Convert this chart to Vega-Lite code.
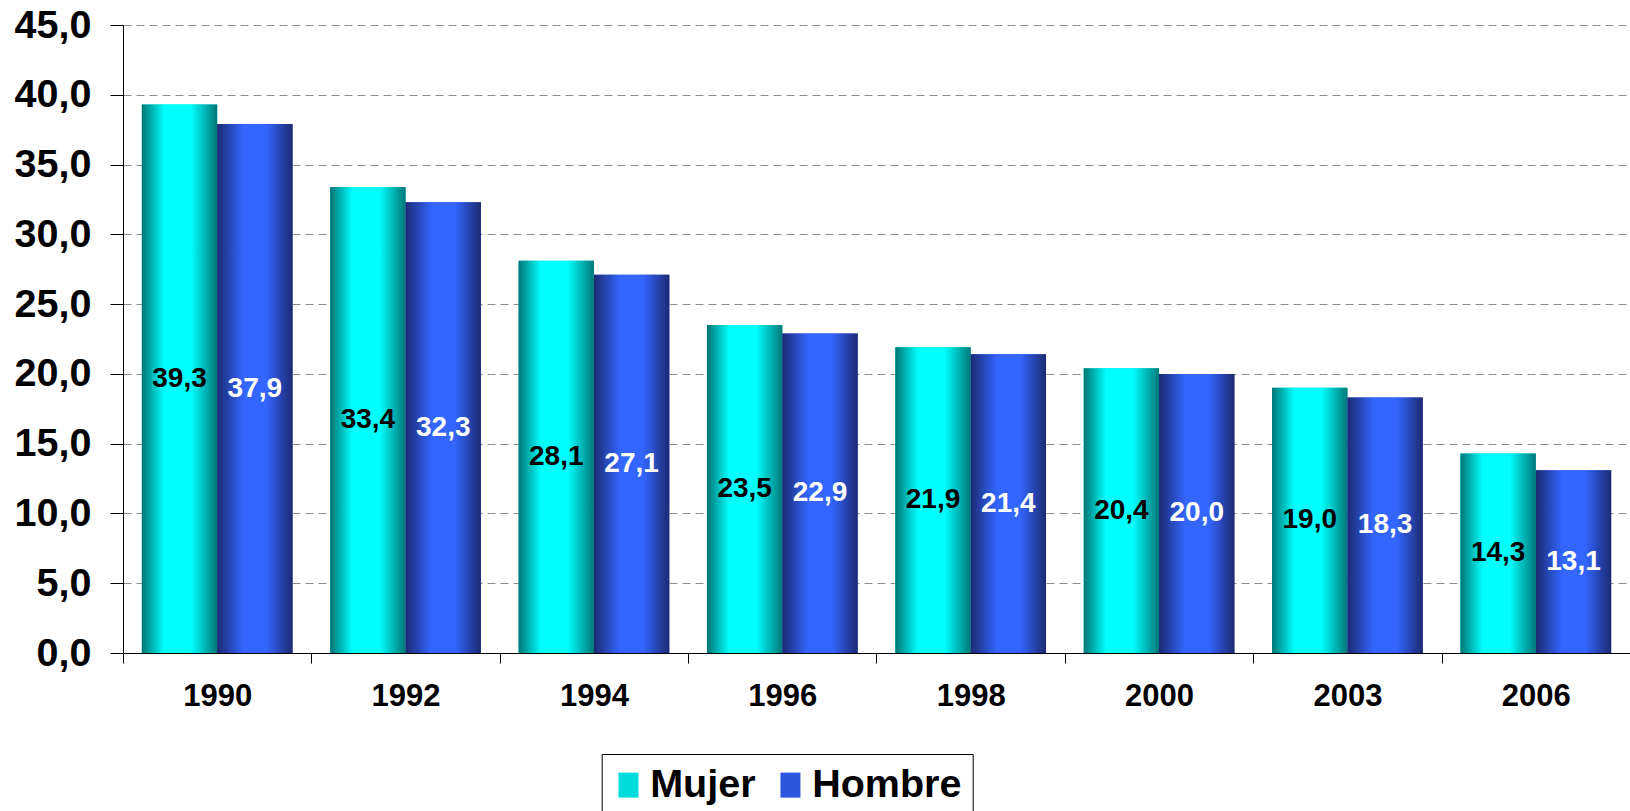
{
  "$schema": "https://vega.github.io/schema/vega-lite/v6.json",
  "width": 1507,
  "height": 628,
  "autosize": "none",
  "padding": {"left": 123, "top": 25, "right": 0, "bottom": 158},
  "background": "white",
  "config": {
    "view": {"stroke": null},
    "font": "Liberation Sans",
    "locale": {"number": {"decimal": ",", "thousands": ".", "grouping": [3], "currency": ["", " €"]}}
  },
  "data": {
    "values": [
      {"anio": "1990", "sexo": "Mujer", "valor": 39.3},
      {"anio": "1990", "sexo": "Hombre", "valor": 37.9},
      {"anio": "1992", "sexo": "Mujer", "valor": 33.4},
      {"anio": "1992", "sexo": "Hombre", "valor": 32.3},
      {"anio": "1994", "sexo": "Mujer", "valor": 28.1},
      {"anio": "1994", "sexo": "Hombre", "valor": 27.1},
      {"anio": "1996", "sexo": "Mujer", "valor": 23.5},
      {"anio": "1996", "sexo": "Hombre", "valor": 22.9},
      {"anio": "1998", "sexo": "Mujer", "valor": 21.9},
      {"anio": "1998", "sexo": "Hombre", "valor": 21.4},
      {"anio": "2000", "sexo": "Mujer", "valor": 20.4},
      {"anio": "2000", "sexo": "Hombre", "valor": 20.0},
      {"anio": "2003", "sexo": "Mujer", "valor": 19.0},
      {"anio": "2003", "sexo": "Hombre", "valor": 18.3},
      {"anio": "2006", "sexo": "Mujer", "valor": 14.3},
      {"anio": "2006", "sexo": "Hombre", "valor": 13.1}
    ]
  },
  "encoding": {
    "x": {
      "field": "anio", "type": "nominal", "sort": null,
      "scale": {"paddingInner": 0.2, "paddingOuter": 0.1},
      "axis": {
        "title": null, "labelAngle": 0, "labelFont": "Liberation Sans", "labelFontSize": 31,
        "labelFontWeight": "bold", "labelColor": "black", "tickSize": 10, "tickColor": "black",
        "domainColor": "black", "tickOffset": -94.19, "labelOffset": 94.19, "labelPadding": 18
      }
    },
    "xOffset": {"field": "sexo", "type": "nominal", "sort": ["Mujer", "Hombre"]}
  },
  "layer": [
    {
      "mark": {"type": "bar"},
      "encoding": {
        "y": {
          "field": "valor", "type": "quantitative",
          "scale": {"domain": [0, 45], "nice": false},
          "axis": {
            "title": null, "values": [0, 5, 10, 15, 20, 25, 30, 35, 40, 45], "format": ".1f",
            "labelFont": "Liberation Sans", "labelFontSize": 39.5, "labelFontWeight": "bold", "labelColor": "black",
            "tickSize": 13, "tickColor": "black", "domainColor": "black", "labelPadding": 19,
            "grid": true, "gridColor": "#8c8c8c", "gridDash": [8, 5], "gridWidth": 1
          }
        },
        "color": {
          "field": "sexo", "type": "nominal", "sort": ["Mujer", "Hombre"],
          "scale": {"domain": ["Mujer", "Hombre"], "range": ["#00dcdc", "#2d55e0"]},
          "legend": {
            "title": null, "orient": "none", "legendX": 478.7, "legendY": 729, "direction": "horizontal",
            "padding": 11, "strokeColor": "black", "fillColor": "white",
            "labelFont": "Liberation Sans", "labelFontSize": 39.5, "labelFontWeight": "bold", "labelColor": "black",
            "symbolType": "M-0.8,-1H0.8V1H-0.8Z", "symbolSize": 625, "symbolStrokeWidth": 0, "symbolOpacity": 1,
            "symbolOffset": -4, "labelOffset": 2, "columnPadding": 19
          }
        }
      }
    },
    {
      "mark": {"type": "bar"},
      "encoding": {
        "y": {"field": "valor", "type": "quantitative", "scale": {"domain": [0, 45], "nice": false}, "axis": null},
        "color": {
          "condition": {"test": "datum.sexo === 'Mujer'", "value": {"gradient": "linear", "x1": 0, "y1": 0, "x2": 1, "y2": 0,
            "stops": [{"offset": 0, "color": "#007575"}, {"offset": 0.3, "color": "#00ffff"}, {"offset": 0.65, "color": "#00ffff"}, {"offset": 1, "color": "#007878"}]}},
          "value": {"gradient": "linear", "x1": 0, "y1": 0, "x2": 1, "y2": 0,
            "stops": [{"offset": 0, "color": "#1c2a72"}, {"offset": 0.35, "color": "#3366ff"}, {"offset": 0.65, "color": "#3366ff"}, {"offset": 1, "color": "#1c2a72"}]}
        }
      }
    },
    {
      "mark": {"type": "text", "font": "Liberation Sans", "fontSize": 28, "fontWeight": "bold", "baseline": "middle"},
      "encoding": {
        "y": {"field": "valor", "type": "quantitative", "scale": {"domain": [0, 90], "nice": false}, "axis": null},
        "text": {"field": "valor", "type": "quantitative", "format": ".1f"},
        "color": {"condition": {"test": "datum.sexo === 'Hombre'", "value": "white"}, "value": "black"}
      }
    }
  ],
  "resolve": {"scale": {"y": "independent", "color": "independent"}}
}
